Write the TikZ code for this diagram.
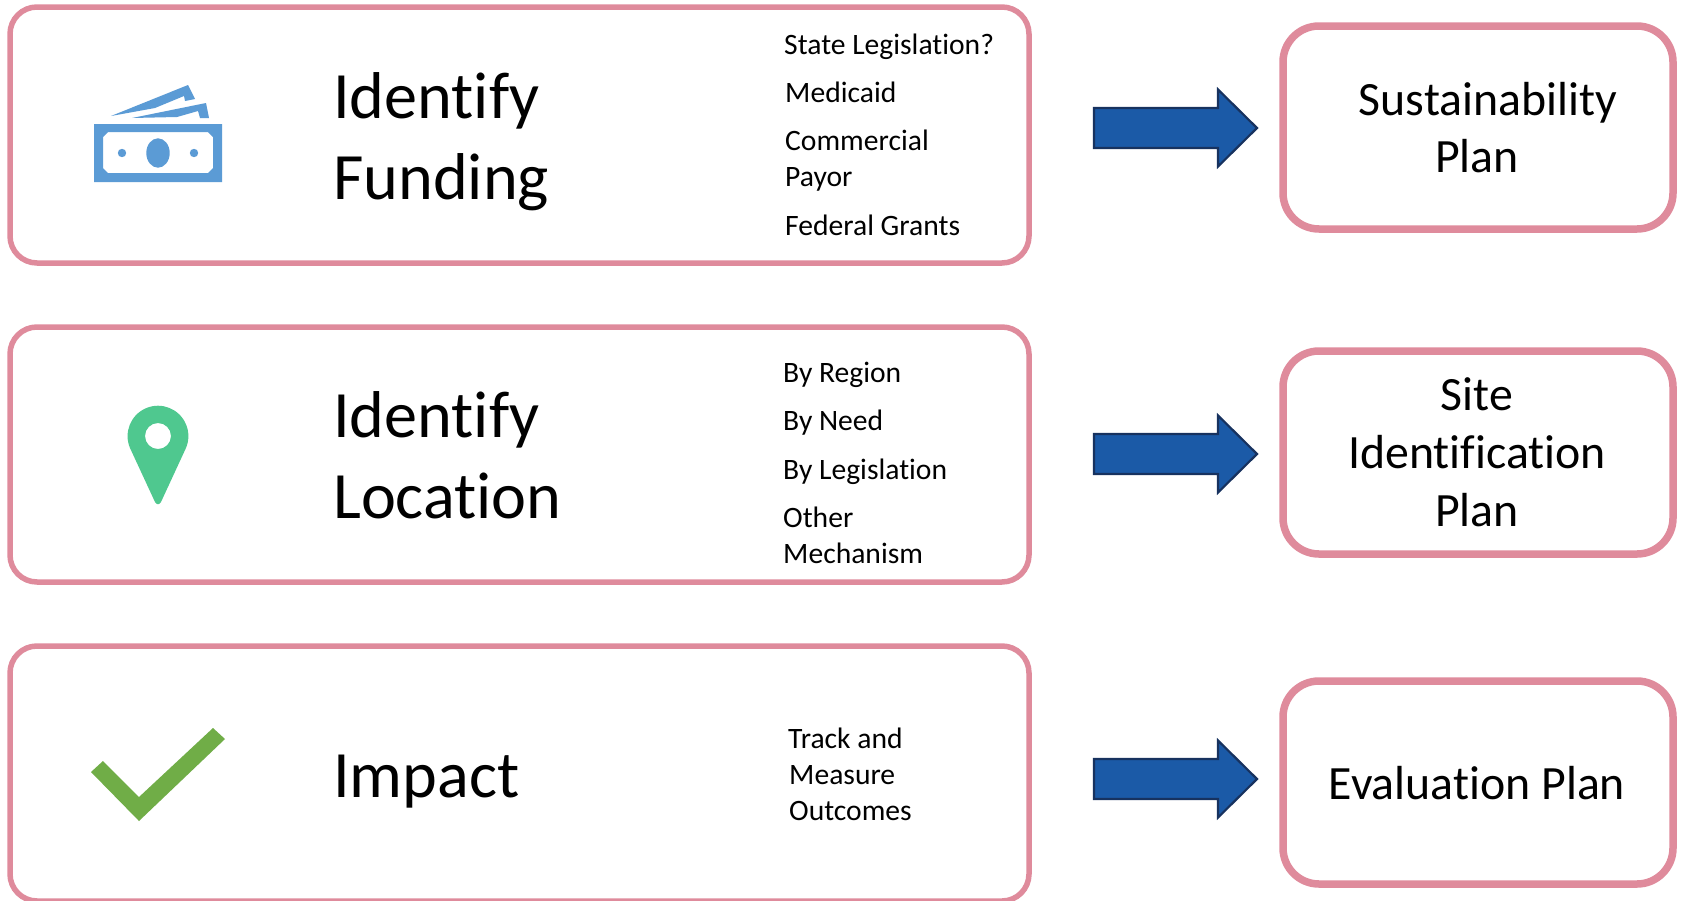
\documentclass[tikz,border=0pt]{standalone}
\usepackage{fontspec}
\setmainfont{Carlito}[Ligatures=NoCommon]
\definecolor{pinkline}{HTML}{DF8B9C}
\definecolor{arrowfill}{HTML}{1B5AA7}
\definecolor{arrowline}{HTML}{17325F}
\definecolor{moneyblue}{HTML}{5B9BD5}
\definecolor{pingreen}{HTML}{4FC88F}
\definecolor{checkgreen}{HTML}{70AD47}
\tikzset{
  leftbox/.style={draw=pinkline,line width=5.5pt,rounded corners=27pt,fill=white},
  rightbox/.style={draw=pinkline,line width=7.5pt,rounded corners=36pt,fill=white},
  bigtext/.style={anchor=base west,inner sep=0pt,font=\fontsize{66.2}{70}\selectfont},
  smalltext/.style={anchor=base west,inner sep=0pt,font=\fontsize{29.6}{32}\selectfont},
  plantext/.style={anchor=base,inner sep=0pt,font=\fontsize{47.8}{50}\selectfont},
  blockarrow/.style={fill=arrowfill,draw=arrowline,line width=2.2pt,miter limit=10},
}
\begin{document}
\begin{tikzpicture}[x=1pt,y=-1pt]
\useasboundingbox (0,0) rectangle (1681,900);
\clip (0,0) rectangle (1681,900);
% left boxes
\draw[leftbox] (10,7) rectangle (1029,263);
\draw[leftbox] (10,327) rectangle (1029,582);
\draw[leftbox] (10,646) rectangle (1029,901);
% right boxes
\draw[rightbox] (1283,26) rectangle (1673,229);
\draw[rightbox] (1283,351) rectangle (1673,554);
\draw[rightbox] (1283,681) rectangle (1673,884);
% arrows
\foreach \dy in {0,326,651}{
  \draw[blockarrow,shift={(0,\dy)}] (1094,108) -- (1218,108) -- (1218,89.5) -- (1257,128) -- (1218,166.5) -- (1218,148) -- (1094,148) -- cycle;
}
% money icon
\fill[moneyblue,even odd rule] (94,124) rectangle (222,182)
  (108,132) -- (208,132) -- (213,137) -- (213,168) -- (208,173) -- (108,173) -- (103,168) -- (103,137) -- cycle;
\fill[moneyblue] (122,153) circle (4.2);
\fill[moneyblue] (194,153) circle (4.2);
\fill[moneyblue] (158,153) ellipse (11.7 and 14.7);
\fill[moneyblue] (111,116) -- (188,85) -- (195,99) -- (185,101) -- (184,96) -- (155,108) -- cycle;
\fill[moneyblue] (132,118) -- (206,103) -- (209,118) -- (200,118) -- (198,111) -- (177,117) -- cycle;
% pin icon
\fill[pingreen,even odd rule] (130,448) arc[start angle=157,end angle=383,radius=-30.4,x radius=30.4,y radius=30.4]
  -- (161,502) .. controls (159,505) and (157,505) .. (155,502) -- cycle
  (171,436) arc[start angle=0,end angle=360,radius=13];
% check icon
\fill[checkgreen] (91,772) -- (103,761) -- (139,797) -- (213,728) -- (225,739) -- (139,821) -- cycle;
% headings
\node[bigtext] (f1) at (333,118) {Identify};
\node[bigtext] (f2) at (333,199) {Funding};
\node[bigtext] (l1) at (333,437) {Identify};
\node[bigtext] (l2) at (333,518) {Location};
\node[bigtext] (i1) at (333,797) {Impact};
% lists
\node[smalltext] (a1) at (784,54) {State Legislation?};
\node[smalltext] (a2) at (785,102) {Medicaid};
\node[smalltext] (a3) at (785,150) {Commercial};
\node[smalltext] (a4) at (785,186) {Payor};
\node[smalltext] (a5) at (785,235) {Federal Grants};
\node[smalltext] (b1) at (783,382) {By Region};
\node[smalltext] (b2) at (783,430) {By Need};
\node[smalltext] (b3) at (783,479) {By Legislation};
\node[smalltext] (b4) at (783,527) {Other};
\node[smalltext] (b5) at (783,563) {Mechanism};
\node[smalltext] (c1) at (788,748) {Track and};
\node[smalltext] (c2) at (789,784) {Measure};
\node[smalltext] (c3) at (789,820) {Outcomes};
% plans
\node[plantext] (p1) at (1488,115) {Sustainability};
\node[plantext] (p2) at (1477,172) {Plan};
\node[plantext] (q1) at (1477,410) {Site};
\node[plantext] (q2) at (1477,468) {Identification};
\node[plantext] (q3) at (1477,526) {Plan};
\node[plantext] (r1) at (1477,799) {Evaluation Plan};
\end{tikzpicture}
\end{document}
